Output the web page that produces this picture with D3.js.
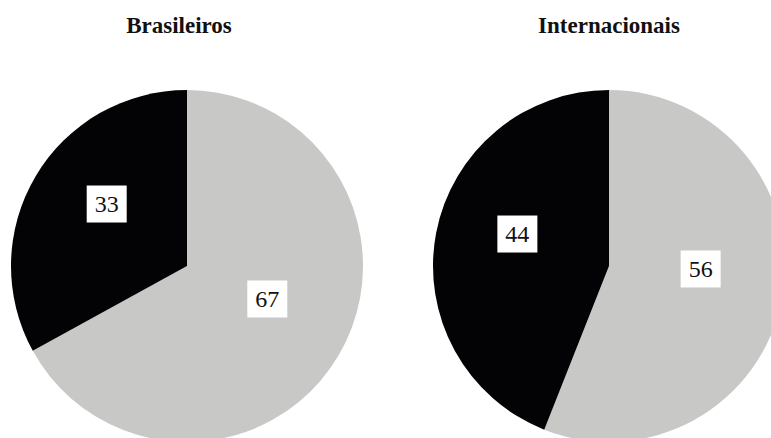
<!DOCTYPE html>
<html><head><meta charset="utf-8">
<script src="https://cdn.jsdelivr.net/npm/d3@7"></script>
<style>html,body{margin:0;padding:0;background:#fff;overflow:hidden}</style>
</head><body>
<svg id="c" width="771" height="438"></svg>
<script>
const groups = ["Brasileiros", "Internacionais"];
const categories = ["Outros", "Destaque"];
const brasileiros = [67, 33];
const internacionais = [56, 44];
const seriesValues = [brasileiros, internacionais];

const W = 771, H = 438;
const svg = d3.select("#c");
const color = d3.scaleOrdinal().domain(categories).range(["#c8c8c6", "#030306"]);
const cx = d3.scalePoint().domain(groups).range([187, 609]);
const R = 176, CY = 266;

const pie = d3.pie().sort(null).value(d => d.v);
const arc = d3.arc().innerRadius(0).outerRadius(R);
const labelArc = d3.arc().innerRadius(R * 0.53).outerRadius(R * 0.53);
const labelLift = -15;

groups.forEach((g, gi) => {
  const data = categories.map((c, i) => ({c, v: seriesValues[gi][i]}));
  const gEl = svg.append("g").attr("transform", `translate(${cx(g)},${CY})`);
  const arcs = pie(data);
  gEl.selectAll("path").data(arcs).join("path")
    .attr("d", arc).attr("fill", d => color(d.data.c));
  const lab = gEl.selectAll("g.lab").data(arcs).join("g").attr("class", "lab")
    .attr("transform", d => { const [x, y] = labelArc.centroid(d); return `translate(${x},${y + labelLift})`; });
  lab.append("rect").attr("x", -20).attr("y", -18).attr("width", 40).attr("height", 37).attr("fill", "#fff");
  lab.append("text").attr("text-anchor", "middle").attr("dy", "0.36em")
    .attr("font-family", "'Liberation Serif', 'DejaVu Serif', serif").attr("font-size", 24)
    .attr("fill", "#111").text(d => d.data.v);
  svg.append("text").attr("x", cx(g) - (gi === 0 ? 8 : 0)).attr("y", 33).attr("text-anchor", "middle")
    .attr("font-family", "'Liberation Serif', serif").attr("font-weight", "bold").attr("font-size", 23)
    .attr("fill", "#111").text(g);
});
</script>
</body></html>
